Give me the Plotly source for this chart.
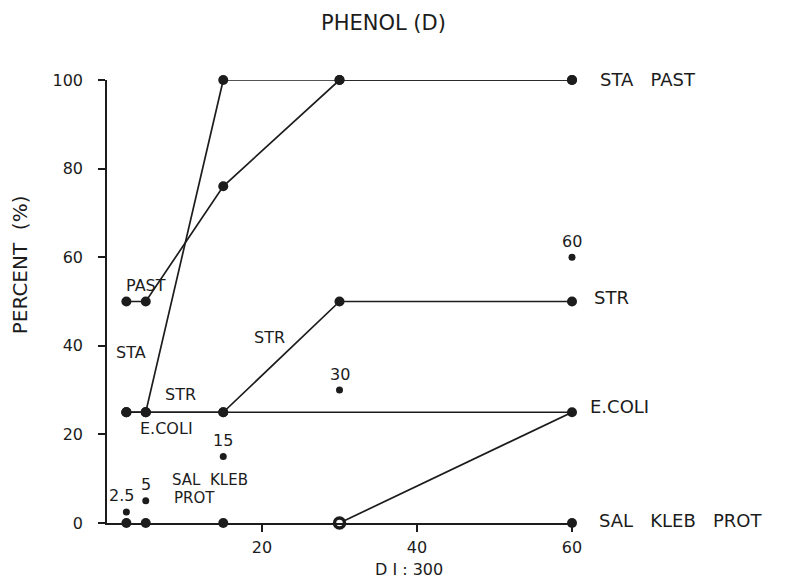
import plotly.graph_objects as go

# Dilution steps (x) and percent of strains (y)
dilution = [2.5, 5, 15, 30, 60]
sta = [25, 25, 100, 100, 100]
past = [50, 50, 76, 100, 100]
strep = [25, 25, 25, 50, 50]
ecoli_x = [2.5, 5, 15, 60]
ecoli = [25, 25, 25, 25]
rise_x = [30, 60]
rise = [0, 25]
sal_kleb_prot = [0, 0, 0, 0, 0]
ref_pct = [2.5, 5, 15, 30, 60]
x_ticks = [20, 40, 60]
y_ticks = [0, 20, 40, 60, 80, 100]

X_MAX = 60
Y_MAX = 100
INK = "#1c1c1c"
FONT = "DejaVu Sans"

fig = go.Figure()


def series(x, y, size=10, mode="lines+markers"):
    fig.add_trace(go.Scatter(
        x=x, y=y, mode=mode, cliponaxis=False, showlegend=False,
        line=dict(color=INK, width=1.7),
        marker=dict(color=INK, size=size),
    ))


series(dilution, sta)
series(dilution, past)
series(dilution, strep)
series(ecoli_x, ecoli)
series(rise_x, rise, mode="lines")

# zero-percent group: the 30 dilution point is drawn hollow
fig.add_trace(go.Scatter(
    x=dilution, y=sal_kleb_prot, mode="markers", cliponaxis=False, showlegend=False,
    marker=dict(color=[INK, INK, INK, "white", INK], size=10,
                line=dict(color=INK, width=[0, 0, 0, 3.5, 0])),
))

# reference points (percent equal to dilution)
series(ref_pct, ref_pct, size=7, mode="markers")

annotations = []


def label(text, x, y, size=16, anchor="left", xref="x", yref="y", **kw):
    annotations.append(dict(
        text=text, x=x, y=y, xref=xref, yref=yref, showarrow=False,
        xanchor=anchor, yanchor="middle",
        font=dict(family=FONT, size=size, color=INK), **kw))


def end_label(text, x, y):
    # placed beside the plotting area, so positioned in paper units
    label(text, x / X_MAX, y / Y_MAX, size=18, xref="paper", yref="paper")


NB = "\u00a0"
# right-hand end labels
end_label(f"STA{NB*3}PAST", 63.4, 100.2)
end_label("STR", 62.6, 50.8)
end_label("E.COLI", 62.1, 26.2)
end_label(f"SAL{NB*3}KLEB{NB*3}PROT", 63.2, 0.5)

# inline labels
label("PAST", 5.0, 53.7, anchor="center")
label("STA", 3.1, 38.4, anchor="center")
label("STR", 9.5, 29.1, anchor="center")
label("E.COLI", 7.7, 21.4, anchor="center")
label("STR", 21.0, 41.8, anchor="center")
label(f"SAL{NB*2}KLEB", 8.1, 9.8, size=15)
label("PROT", 8.4, 5.6, size=15)

# values over the reference points
for v in ref_pct:
    label(f"{v:g}", v, v, anchor="center", yshift=16,
          xshift=-5 if v < 3 else 0)

# titles
label(f"PHENOL{NB}(D)", 0.595, 1.129, size=21, anchor="center", xref="paper", yref="paper")
label("D I : 300", 0.65, -0.105, size=16, anchor="center", xref="paper", yref="paper")
label(f"PERCENT{NB*2}(%)", -0.187, 0.582, size=20, anchor="center", xref="paper",
      yref="paper", textangle=-90)

axis_common = dict(
    showline=True, linecolor=INK, linewidth=1.5,
    ticks="outside", ticklen=7, tickwidth=1.5, tickcolor=INK,
    showgrid=False, zeroline=False,
    tickfont=dict(family=FONT, size=16, color=INK),
)

fig.update_layout(
    width=787, height=579,
    margin=dict(l=107, r=215, t=80, b=56),
    paper_bgcolor="white", plot_bgcolor="white",
    xaxis=dict(range=[0, X_MAX], tickvals=x_ticks, ticklabelstandoff=2, **axis_common),
    yaxis=dict(range=[0, Y_MAX], tickvals=y_ticks, ticklabelstandoff=12, **axis_common),
    annotations=annotations,
)

fig.write_html("out.html")
